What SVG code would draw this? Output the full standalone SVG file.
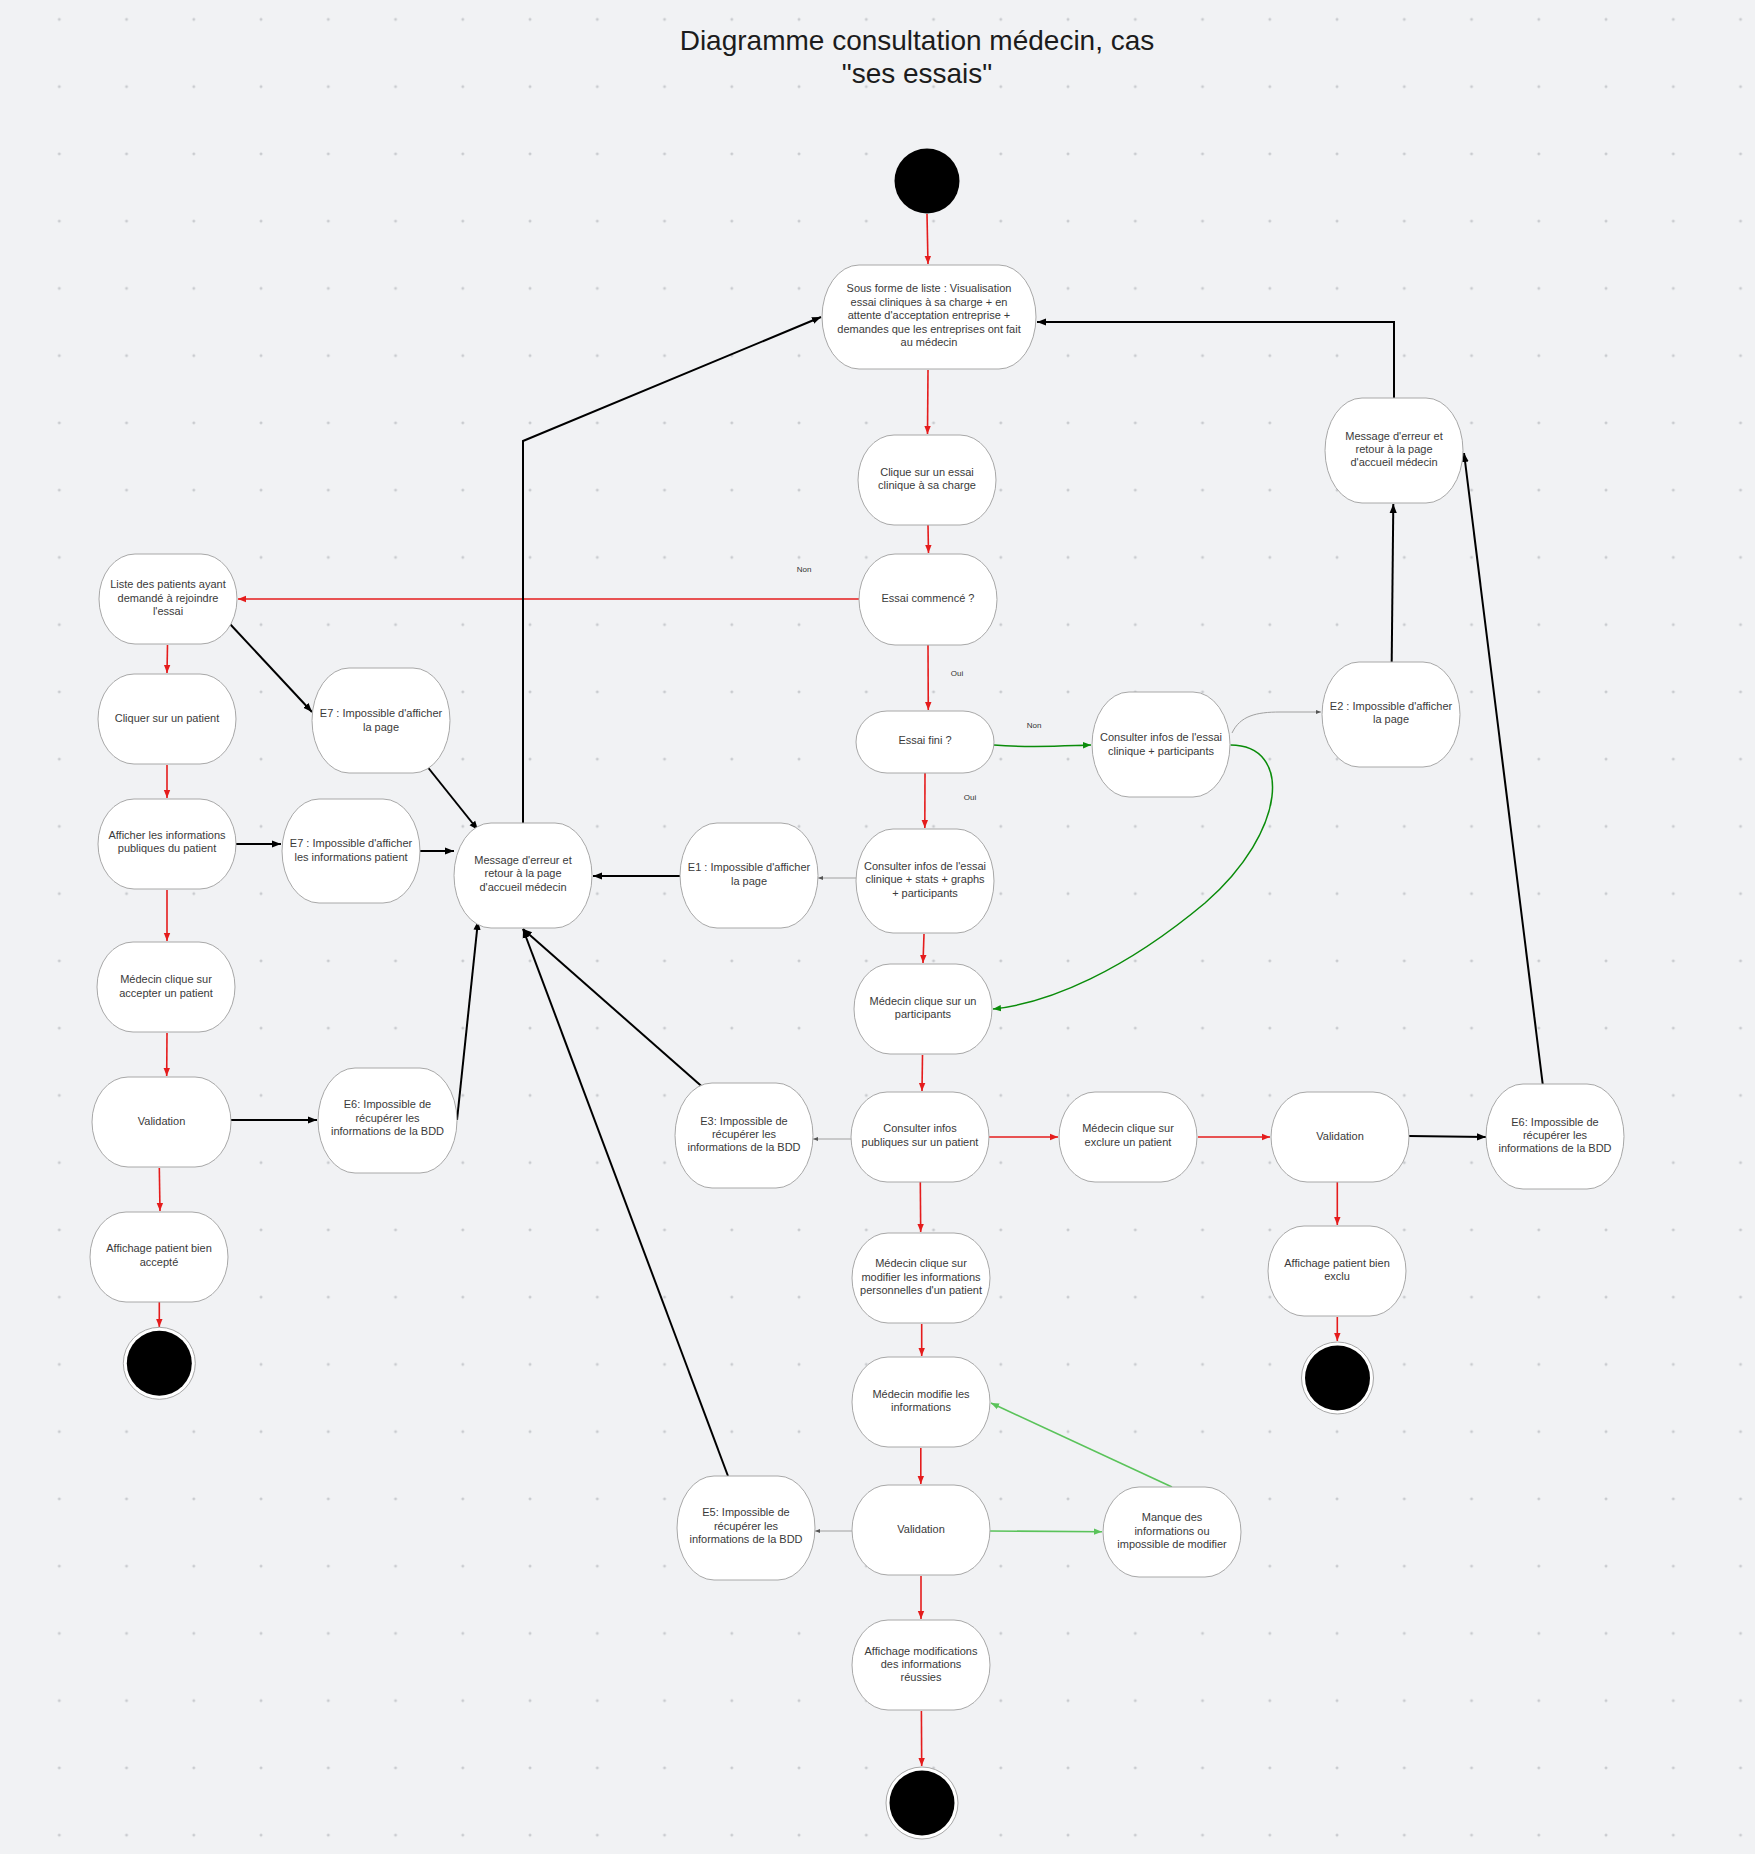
<svg xmlns="http://www.w3.org/2000/svg" width="1755" height="1854" viewBox="0 0 1755 1854">
  <defs>
    <pattern id="grid" x="25.7" y="-14.2" width="67.25" height="67.25" patternUnits="userSpaceOnUse">
      <path d="M32.1,33.6 H35.1 M33.6,32.1 V35.1" stroke="#b4b6ba" stroke-width="0.8" fill="none"/>
    </pattern>
    <marker id="arRed" viewBox="0 0 10 10" refX="10" refY="5" markerWidth="8" markerHeight="8" markerUnits="userSpaceOnUse" orient="auto">
      <path d="M0,1 L10,5 L0,9 z" fill="#e51c1c"/>
    </marker>
    <marker id="arBlk" viewBox="0 0 10 10" refX="10" refY="5" markerWidth="9" markerHeight="9" markerUnits="userSpaceOnUse" orient="auto">
      <path d="M0,1 L10,5 L0,9 z" fill="#000"/>
    </marker>
    <marker id="arGry" viewBox="0 0 10 10" refX="10" refY="5" markerWidth="5" markerHeight="5" markerUnits="userSpaceOnUse" orient="auto">
      <path d="M0,1 L10,5 L0,9 z" fill="#555"/>
    </marker>
    <marker id="arGrn" viewBox="0 0 10 10" refX="10" refY="5" markerWidth="8" markerHeight="8" markerUnits="userSpaceOnUse" orient="auto">
      <path d="M0,1 L10,5 L0,9 z" fill="#0a8c0a"/>
    </marker>
    <marker id="arLgrn" viewBox="0 0 10 10" refX="10" refY="5" markerWidth="8" markerHeight="8" markerUnits="userSpaceOnUse" orient="auto">
      <path d="M0,1 L10,5 L0,9 z" fill="#5ac35a"/>
    </marker>
  </defs>
  <style>
    .n { fill: #ffffff; stroke: #a8a8a8; stroke-width: 1; }
    .t { font-family: "Liberation Sans", Arial, sans-serif; font-size: 11px; fill: #3a3a3a; text-anchor: middle; }
    .lbl { font-family: "Liberation Sans", Arial, sans-serif; font-size: 8px; fill: #333333; text-anchor: middle; }
    .title { font-family: "Liberation Sans", Arial, sans-serif; font-size: 28px; fill: #1c1c1c; text-anchor: middle; }
    .red { stroke: #e51c1c; stroke-width: 1.6; fill: none; marker-end: url(#arRed); }
    .blk { stroke: #000000; stroke-width: 2; fill: none; marker-end: url(#arBlk); }
    .gry { stroke: #a0a0a0; stroke-width: 1; fill: none; marker-end: url(#arGry); }
    .grn { stroke: #0a8c0a; stroke-width: 1.5; fill: none; marker-end: url(#arGrn); }
    .lgrn { stroke: #5ac35a; stroke-width: 1.6; fill: none; marker-end: url(#arLgrn); }
    .start { fill: #000000; }
    .endRing { fill: #ffffff; stroke: #a8a8a8; stroke-width: 1; }
  </style>

  <!-- canvas and dotted grid -->
  <rect width="1755" height="1854" fill="#f1f2f4"/>
  <rect width="1755" height="1854" fill="url(#grid)"/>

  <!-- title -->
  <g id="title">
    <text class="title" x="917" y="50">Diagramme consultation médecin, cas</text>
    <text class="title" x="917" y="83">"ses essais"</text>
  </g>

  <!-- connectors -->
  <g id="connectors">
    <!-- main flow (red) -->
    <path class="red" d="M927,214 L928,264"/>
    <path class="red" d="M928,370 L927.5,434"/>
    <path class="red" d="M928,525 L928.5,553"/>
    <path class="red" d="M859,599 L238,599"/>
    <path class="red" d="M928,645 L928.3,710"/>
    <path class="red" d="M925,773 L924.8,828"/>
    <path class="red" d="M924,934 L923,963"/>
    <path class="red" d="M922.5,1055 L922,1091"/>
    <path class="red" d="M989,1137 L1058,1137"/>
    <path class="red" d="M1198,1137 L1270,1137"/>
    <path class="red" d="M920.3,1182 L920.7,1232"/>
    <path class="red" d="M921.7,1324 L921.7,1356"/>
    <path class="red" d="M920.8,1448 L920.8,1484"/>
    <path class="red" d="M921,1576 L921,1619"/>
    <path class="red" d="M921.4,1711 L921.7,1766"/>
    <path class="red" d="M1337.3,1182 L1337.3,1225"/>
    <path class="red" d="M1337.3,1317 L1337.3,1341"/>
    <path class="red" d="M167.5,645 L167,673"/>
    <path class="red" d="M167,765 L167,798"/>
    <path class="red" d="M167,890 L167,941"/>
    <path class="red" d="M167,1033 L166.7,1076"/>
    <path class="red" d="M159.3,1168 L160,1211"/>
    <path class="red" d="M159.3,1302 L159.3,1327"/>

    <!-- error returns (black) -->
    <path class="blk" d="M523,823 L523,441 L821,317"/>
    <path class="blk" d="M1394,398 L1394,322 L1037,322"/>
    <path class="blk" d="M230,624 L312,712"/>
    <path class="blk" d="M236,844 L281,844"/>
    <path class="blk" d="M420,851 L454,851"/>
    <path class="blk" d="M426,765 L478,830"/>
    <path class="blk" d="M680,876 L593,876"/>
    <path class="blk" d="M703.6,1088 L523,929"/>
    <path class="blk" d="M728,1476 L523,929"/>
    <path class="blk" d="M231,1120 L317,1120"/>
    <path class="blk" d="M457,1120 L478,921"/>
    <path class="blk" d="M1391.7,662 L1393.3,504"/>
    <path class="blk" d="M1542.7,1084 L1464,453"/>
    <path class="blk" d="M1409,1136 L1486,1137"/>

    <!-- error branches (thin grey) -->
    <path class="gry" d="M856,878 L818,878"/>
    <path class="gry" d="M851,1139 L813,1139"/>
    <path class="gry" d="M852,1531 L815,1531"/>
    <path class="gry" d="M1232,733 C1240,716 1256,712 1280,712 L1321,712"/>

    <!-- alternative flows (green) -->
    <path class="grn" d="M994,745 C1030,748 1060,746 1091,745"/>
    <path class="grn" d="M1230.5,745 C1292,745 1288,830 1205,903 C1125,970 1050,1003 993,1009"/>
    <path class="lgrn" d="M989,1531 L1102,1531.7"/>
    <path class="lgrn" d="M1172,1487 L991,1403"/>

    <!-- branch labels -->
    <text class="lbl" x="804" y="572">Non</text>
    <text class="lbl" x="957" y="676">Oui</text>
    <text class="lbl" x="1034" y="728">Non</text>
    <text class="lbl" x="970" y="800">Oui</text>
  </g>

  <!-- nodes -->
  <g id="start">
    <circle class="start" cx="927" cy="181" r="32.5"/>
  </g>

  <g id="n-liste-essais">
    <rect class="n" x="822" y="265" width="214" height="104" rx="37" ry="52"/>
    <text class="t" x="929" y="292">Sous forme de liste : Visualisation</text>
    <text class="t" x="929" y="305.5">essai cliniques à sa charge + en</text>
    <text class="t" x="929" y="319">attente d'acceptation entreprise +</text>
    <text class="t" x="929" y="332.5">demandes que les entreprises ont fait</text>
    <text class="t" x="929" y="346">au médecin</text>
  </g>

  <g id="n-clique-essai">
    <rect class="n" x="858" y="435" width="138" height="90" rx="36" ry="45"/>
    <text class="t" x="927" y="475.7">Clique sur un essai</text>
    <text class="t" x="927" y="489">clinique à sa charge</text>
  </g>

  <g id="n-essai-commence">
    <rect class="n" x="859" y="554" width="138" height="91" rx="36" ry="45.5"/>
    <text class="t" x="928" y="602.3">Essai commencé ?</text>
  </g>

  <g id="n-essai-fini">
    <rect class="n" x="856" y="711" width="138" height="62" rx="31" ry="31"/>
    <text class="t" x="925" y="744">Essai fini ?</text>
  </g>

  <g id="n-liste-patients">
    <rect class="n" x="99" y="554" width="138" height="90" rx="36" ry="45"/>
    <text class="t" x="168" y="588.3">Liste des patients ayant</text>
    <text class="t" x="168" y="601.7">demandé à rejoindre</text>
    <text class="t" x="168" y="615">l'essai</text>
  </g>

  <g id="n-cliquer-patient">
    <rect class="n" x="98" y="674" width="138" height="90" rx="36" ry="45"/>
    <text class="t" x="167" y="722.3">Cliquer sur un patient</text>
  </g>

  <g id="n-afficher-infos">
    <rect class="n" x="98" y="799" width="138" height="90" rx="36" ry="45"/>
    <text class="t" x="167" y="839">Afficher les informations</text>
    <text class="t" x="167" y="852.3">publiques du patient</text>
  </g>

  <g id="n-accepter">
    <rect class="n" x="97" y="942" width="138" height="90" rx="36" ry="45"/>
    <text class="t" x="166" y="983">Médecin clique sur</text>
    <text class="t" x="166" y="997">accepter un patient</text>
  </g>

  <g id="n-validation-accept">
    <rect class="n" x="92" y="1077" width="139" height="90" rx="36" ry="45"/>
    <text class="t" x="161.5" y="1125">Validation</text>
  </g>

  <g id="n-affichage-accepte">
    <rect class="n" x="90" y="1212" width="138" height="90" rx="36" ry="45"/>
    <text class="t" x="159" y="1252.3">Affichage patient bien</text>
    <text class="t" x="159" y="1265.7">accepté</text>
  </g>

  <g id="end-accept">
    <circle class="endRing" cx="159.3" cy="1363.3" r="36"/>
    <circle class="start" cx="159.3" cy="1363.3" r="32.5"/>
  </g>

  <g id="n-e7-page">
    <rect class="n" x="312" y="668" width="138" height="105" rx="37" ry="52.5"/>
    <text class="t" x="381" y="716.7">E7 : Impossible d'afficher</text>
    <text class="t" x="381" y="730.7">la page</text>
  </g>

  <g id="n-e7-infos">
    <rect class="n" x="282" y="799" width="138" height="104" rx="37" ry="52"/>
    <text class="t" x="351" y="847.3">E7 : Impossible d'afficher</text>
    <text class="t" x="351" y="860.7">les informations patient</text>
  </g>

  <g id="n-e6-accept">
    <rect class="n" x="318" y="1068" width="139" height="105" rx="37" ry="52.5"/>
    <text class="t" x="387.5" y="1108.3">E6: Impossible de</text>
    <text class="t" x="387.5" y="1122">récupérer les</text>
    <text class="t" x="387.5" y="1135.3">informations de la BDD</text>
  </g>

  <g id="n-message-gauche">
    <rect class="n" x="454" y="823" width="138" height="105" rx="37" ry="52.5"/>
    <text class="t" x="523" y="864">Message d'erreur et</text>
    <text class="t" x="523" y="877.3">retour à la page</text>
    <text class="t" x="523" y="890.7">d'accueil médecin</text>
  </g>

  <g id="n-e1">
    <rect class="n" x="680" y="823" width="138" height="105" rx="37" ry="52.5"/>
    <text class="t" x="749" y="871.3">E1 : Impossible d'afficher</text>
    <text class="t" x="749" y="884.7">la page</text>
  </g>

  <g id="n-consulter-essai">
    <rect class="n" x="856" y="829" width="138" height="104" rx="37" ry="52"/>
    <text class="t" x="925" y="870">Consulter infos de l'essai</text>
    <text class="t" x="925" y="883.3">clinique + stats + graphs</text>
    <text class="t" x="925" y="896.7">+ participants</text>
  </g>

  <g id="n-clique-participant">
    <rect class="n" x="854" y="964" width="138" height="90" rx="36" ry="45"/>
    <text class="t" x="923" y="1005">Médecin clique sur un</text>
    <text class="t" x="923" y="1018.3">participants</text>
  </g>

  <g id="n-consulter-patient">
    <rect class="n" x="851" y="1092" width="138" height="90" rx="36" ry="45"/>
    <text class="t" x="920" y="1132.3">Consulter infos</text>
    <text class="t" x="920" y="1145.7">publiques sur un patient</text>
  </g>

  <g id="n-e3">
    <rect class="n" x="675" y="1083" width="138" height="105" rx="37" ry="52.5"/>
    <text class="t" x="744" y="1124.7">E3: Impossible de</text>
    <text class="t" x="744" y="1138">récupérer les</text>
    <text class="t" x="744" y="1151.3">informations de la BDD</text>
  </g>

  <g id="n-exclure">
    <rect class="n" x="1059" y="1092" width="138" height="90" rx="36" ry="45"/>
    <text class="t" x="1128" y="1132.3">Médecin clique sur</text>
    <text class="t" x="1128" y="1145.7">exclure un patient</text>
  </g>

  <g id="n-validation-exclu">
    <rect class="n" x="1271" y="1092" width="138" height="90" rx="36" ry="45"/>
    <text class="t" x="1340" y="1140">Validation</text>
  </g>

  <g id="n-e6-exclu">
    <rect class="n" x="1486" y="1084" width="138" height="105" rx="37" ry="52.5"/>
    <text class="t" x="1555" y="1125.6">E6: Impossible de</text>
    <text class="t" x="1555" y="1138.7">récupérer les</text>
    <text class="t" x="1555" y="1151.8">informations de la BDD</text>
  </g>

  <g id="n-affichage-exclu">
    <rect class="n" x="1268" y="1226" width="138" height="90" rx="36" ry="45"/>
    <text class="t" x="1337" y="1266.7">Affichage patient bien</text>
    <text class="t" x="1337" y="1280">exclu</text>
  </g>

  <g id="end-exclu">
    <circle class="endRing" cx="1337.5" cy="1378" r="36"/>
    <circle class="start" cx="1337.5" cy="1378" r="32.5"/>
  </g>

  <g id="n-clique-modifier">
    <rect class="n" x="852" y="1233" width="138" height="90" rx="36" ry="45"/>
    <text class="t" x="921" y="1267.3">Médecin clique sur</text>
    <text class="t" x="921" y="1280.7">modifier les informations</text>
    <text class="t" x="921" y="1294">personnelles d'un patient</text>
  </g>

  <g id="n-modifie">
    <rect class="n" x="852" y="1357" width="138" height="90" rx="36" ry="45"/>
    <text class="t" x="921" y="1398">Médecin modifie les</text>
    <text class="t" x="921" y="1411.3">informations</text>
  </g>

  <g id="n-validation-modif">
    <rect class="n" x="852" y="1485" width="138" height="90" rx="36" ry="45"/>
    <text class="t" x="921" y="1533.3">Validation</text>
  </g>

  <g id="n-e5">
    <rect class="n" x="677" y="1476" width="138" height="104" rx="37" ry="52"/>
    <text class="t" x="746" y="1516.3">E5: Impossible de</text>
    <text class="t" x="746" y="1529.7">récupérer les</text>
    <text class="t" x="746" y="1543">informations de la BDD</text>
  </g>

  <g id="n-manque">
    <rect class="n" x="1103" y="1487" width="138" height="90" rx="36" ry="45"/>
    <text class="t" x="1172" y="1521.3">Manque des</text>
    <text class="t" x="1172" y="1534.7">informations ou</text>
    <text class="t" x="1172" y="1548">impossible de modifier</text>
  </g>

  <g id="n-affichage-modif">
    <rect class="n" x="852" y="1620" width="138" height="90" rx="36" ry="45"/>
    <text class="t" x="921" y="1654.7">Affichage modifications</text>
    <text class="t" x="921" y="1668">des informations</text>
    <text class="t" x="921" y="1681.3">réussies</text>
  </g>

  <g id="end-modif">
    <circle class="endRing" cx="922" cy="1803" r="36"/>
    <circle class="start" cx="922" cy="1803" r="32.5"/>
  </g>

  <g id="n-consulter-participants">
    <rect class="n" x="1092" y="692" width="138" height="105" rx="37" ry="52.5"/>
    <text class="t" x="1161" y="741.3">Consulter infos de l'essai</text>
    <text class="t" x="1161" y="754.7">clinique + participants</text>
  </g>

  <g id="n-e2">
    <rect class="n" x="1322" y="662" width="138" height="105" rx="37" ry="52.5"/>
    <text class="t" x="1391" y="709.7">E2 : Impossible d'afficher</text>
    <text class="t" x="1391" y="723.3">la page</text>
  </g>

  <g id="n-message-droite">
    <rect class="n" x="1325" y="398" width="138" height="105" rx="37" ry="52.5"/>
    <text class="t" x="1394" y="439.7">Message d'erreur et</text>
    <text class="t" x="1394" y="453.3">retour à la page</text>
    <text class="t" x="1394" y="466.3">d'accueil médecin</text>
  </g>
</svg>
